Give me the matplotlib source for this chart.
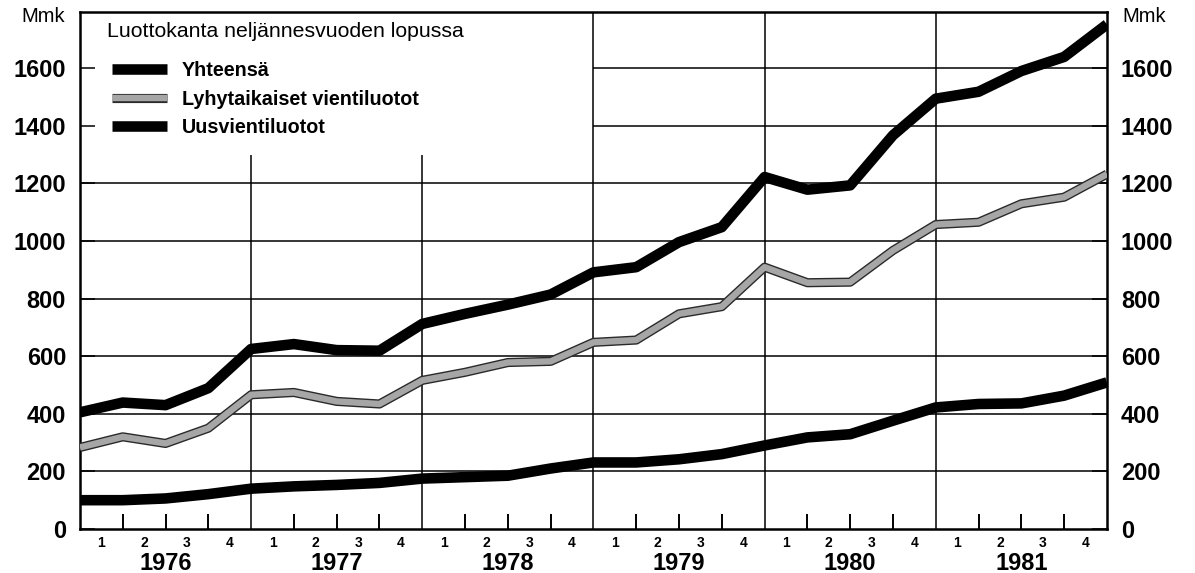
import numpy as np
import matplotlib
matplotlib.use("Agg")
import matplotlib.pyplot as plt
import matplotlib.patheffects as pe

plt.rcParams['font.family'] = ['Liberation Sans', 'DejaVu Sans']

# quarter-end positions: 0 = end of 1975, 24 = end of 1981
quarters = np.arange(25)
years = ['1976', '1977', '1978', '1979', '1980', '1981']
quarter_labels = ['1', '2', '3', '4'] * 6

# Mmk
yhteensa = [405, 439, 430, 489, 625, 642, 621, 619, 712, 747, 779, 814,
            891, 909, 996, 1048, 1222, 1178, 1193, 1367, 1494, 1518, 1590, 1639, 1752]
lyhyt = [283, 320, 297, 350, 466, 474, 443, 434, 516, 544, 578, 582,
         648, 656, 747, 772, 909, 855, 857, 967, 1057, 1065, 1129, 1152, 1232]
uusi = [100, 100, 106, 121, 140, 148, 153, 160, 175, 180, 185, 210,
        231, 231, 242, 260, 290, 318, 329, 376, 422, 434, 436, 463, 509]

yticks = [0, 200, 400, 600, 800, 1000, 1200, 1400, 1600]

fig = plt.figure(figsize=(11.95, 5.73), dpi=100)
ax = fig.add_axes([0.0669, 0.0768, 0.8594, 0.9023])
ax.set_xlim(0, 24)
ax.set_ylim(0, 1795)

# grid, left free where the legend sits
for v in yticks[1:]:
    x0 = 12 if v >= 1400 else 0
    ax.hlines(v, x0, 24, color='black', lw=1.1, zorder=1)
for q in [4, 8]:
    ax.vlines(q, 0, 1297, color='black', lw=1.1, zorder=1)
for q in [12, 16, 20]:
    ax.vlines(q, 0, 1795, color='black', lw=1.1, zorder=1)

ax.plot(quarters, yhteensa, color='black', lw=7.6,
        solid_capstyle='butt', label='Yhteensä', zorder=3)
ax.plot(quarters, lyhyt, color='#a6a6a6', lw=4.6, solid_capstyle='butt',
        path_effects=[pe.Stroke(linewidth=6.6, foreground='#2a2a2a'), pe.Normal()],
        label='Lyhytaikaiset vientiluotot', zorder=3)
ax.plot(quarters, uusi, color='black', lw=7.6, solid_capstyle='butt',
        label='Uusvientiluotot', zorder=3)

for s in ax.spines.values():
    s.set_linewidth(1.8)

ax.set_yticks(yticks)
ax.set_yticklabels([str(v) for v in yticks], fontsize=17, fontweight='bold')
ax.tick_params(axis='y', direction='in', length=11, width=1.1, pad=10,
               left=True, right=True, labelleft=True, labelright=True)

major = [q for q in range(1, 24) if q % 4 != 0]
ax.set_xticks(major)
ax.set_xticklabels([])
ax.tick_params(axis='x', which='major', direction='in', length=11, width=1.4)
ax.set_xticks(np.arange(24) + 0.5, minor=True)
ax.set_xticklabels(quarter_labels, minor=True, fontsize=10, fontweight='bold')
ax.tick_params(axis='x', which='minor', length=0, pad=5)

for i, yr in enumerate(years):
    ax.text(4 * i + 2, -0.066, yr, transform=ax.get_xaxis_transform(),
            ha='center', va='center', fontsize=17, fontweight='bold')

ax.text(-0.036, 0.992, 'Mmk', transform=ax.transAxes, ha='center',
        va='center', fontsize=14.5)
ax.text(1.036, 0.992, 'Mmk', transform=ax.transAxes, ha='center',
        va='center', fontsize=14.5)

ax.text(0.0263, 0.963, 'Luottokanta neljännesvuoden lopussa',
        transform=ax.transAxes, ha='left', va='center', fontsize=15.3)
ax.legend(loc='upper left', bbox_to_anchor=(0.031, 0.905), frameon=False,
          prop={'weight': 'bold', 'size': 14.2}, handlelength=2.8,
          handletextpad=0.75, labelspacing=0.48, borderpad=0,
          borderaxespad=0)

fig.savefig('out.png', dpi=100)
